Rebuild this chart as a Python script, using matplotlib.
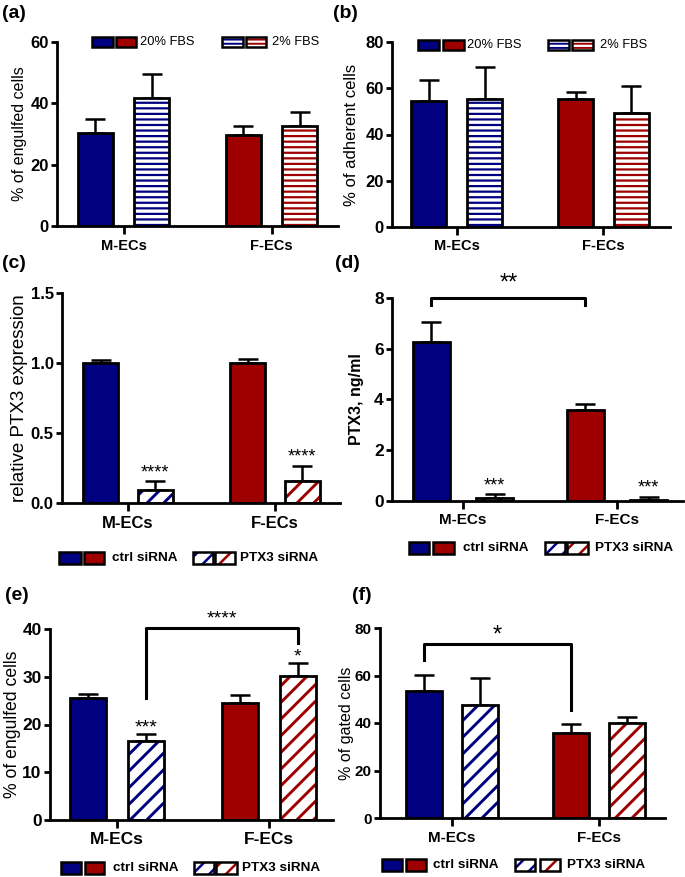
import numpy as np
import matplotlib
matplotlib.use('Agg')
import matplotlib.pyplot as plt
from matplotlib.patches import Rectangle

plt.rcParams['font.family'] = ['Liberation Sans', 'DejaVu Sans']
plt.rcParams['hatch.linewidth'] = 2.1

W, H = 685, 877
blue = '#000080'
red = '#9e0000'

groups = ['M-ECs', 'F-ECs']

# bar order in every panel: M solid, M hatched, F solid, F hatched
# (a) engulfed cells, 20% FBS / 2% FBS
a_mean = [30.3, 41.8, 29.7, 32.5]
a_err = [4.7, 7.9, 2.9, 4.7]
# (b) adherent cells
b_mean = [54.5, 55.5, 55.5, 49.3]
b_err = [9.2, 13.5, 2.7, 11.5]
# (c) relative PTX3 expression, ctrl / PTX3 siRNA
c_mean = [1.0, 0.095, 1.0, 0.155]
c_err = [0.02, 0.06, 0.03, 0.11]
c_stars = ['', '****', '', '****']
# (d) PTX3 ng/ml
d_mean = [6.28, 0.12, 3.58, 0.05]
d_err = [0.77, 0.14, 0.23, 0.11]
d_stars = ['', '***', '', '***']
# (e) engulfed cells
e_mean = [25.5, 16.6, 24.6, 30.1]
e_err = [0.9, 1.4, 1.5, 2.8]
e_stars = ['', '***', '', '*']
# (f) gated cells
f_mean = [53.6, 47.6, 35.8, 40.0]
f_err = [6.5, 11.3, 3.6, 2.4]

fig = plt.figure(figsize=(W / 100, H / 100), dpi=100)


def px_axes(left, top, right, bottom):
    return fig.add_axes([left / W, 1 - bottom / H, (right - left) / W, (bottom - top) / H])


def fig_text(x, y, s, **kw):
    fig.text(x / W, 1 - y / H, s, **kw)


def hatch_lw(patch, lw):
    if hasattr(patch, 'set_hatch_linewidth'):
        patch.set_hatch_linewidth(lw)


def panel(box, tick_px, unit_px, means, errs, hatch, hlw, ymax, yticks, ylabel, ylabel_x,
          offset=0.19, width=0.24, tick_fs=12, x_fs=10.5, label_fs=11.5, label_bold=False,
          ytick_labels=None, stars=None, star_fs=13, star_dy=0):
    left, top, right, bottom = box
    ax = px_axes(left, top, right, bottom)
    x = [-offset, offset, 1 - offset, 1 + offset]
    colors = [blue, blue, red, red]
    for i in range(4):
        if i % 2 == 0:
            ax.bar(x[i], means[i], width, color=colors[i], edgecolor='black', linewidth=2, zorder=2)
        else:
            bars = ax.bar(x[i], means[i], width, color='white', edgecolor=colors[i], hatch=hatch,
                          linewidth=0, zorder=2)
            for p in bars:
                hatch_lw(p, hlw)
            ax.bar(x[i], means[i], width, fill=False, edgecolor='black', linewidth=2, zorder=3)
    ax.errorbar(x, means, yerr=[np.zeros(4), errs], fmt='none', ecolor='black',
                elinewidth=1.8, capsize=7.5, capthick=1.8, zorder=1)
    ax.set_xlim((left - tick_px) / unit_px, (right - tick_px) / unit_px)
    ax.set_ylim(0, ymax)
    ax.set_yticks(yticks)
    if ytick_labels is not None:
        ax.set_yticklabels(ytick_labels)
    ax.set_xticks([0, 1])
    ax.set_xticklabels(groups, fontsize=x_fs, fontweight='bold')
    for t in ax.get_yticklabels():
        t.set_fontsize(tick_fs)
        t.set_fontweight('bold')
    ax.spines['top'].set_visible(False)
    ax.spines['right'].set_visible(False)
    ax.spines['left'].set_linewidth(2)
    ax.spines['bottom'].set_linewidth(2)
    ax.tick_params(axis='y', width=2, length=4, pad=2)
    ax.tick_params(axis='x', width=2, length=6, pad=3)
    fig_text(ylabel_x, (top + bottom) / 2, ylabel, rotation=90, ha='center', va='center',
             fontsize=label_fs, fontweight='bold' if label_bold else 'normal')
    if stars is not None:
        for i in range(4):
            if stars[i]:
                ax.text(x[i], means[i] + errs[i] + star_dy, stars[i], ha='center', va='bottom',
                        fontsize=star_fs, clip_on=False)
    return ax


def legend_box(x0, x1, yc, h, color, hatch=None, hlw=2.1):
    xy = (x0 / W, 1 - (yc + h / 2) / H)
    if hatch is None:
        fig.patches.append(Rectangle(xy, (x1 - x0) / W, h / H, transform=fig.transFigure,
                                     facecolor=color, edgecolor='black', linewidth=1.8))
    else:
        p = Rectangle(xy, (x1 - x0) / W, h / H, transform=fig.transFigure,
                      facecolor='white', edgecolor=color, hatch=hatch, linewidth=0)
        hatch_lw(p, hlw)
        fig.patches.append(p)
        fig.patches.append(Rectangle(xy, (x1 - x0) / W, h / H, transform=fig.transFigure,
                                     fill=False, edgecolor='black', linewidth=1.8))


def legend_row(yc, h, xs_solid, x_text1, text1, xs_hatch, x_text2, text2, hatch, hlw, fs, bold):
    legend_box(xs_solid[0], xs_solid[1], yc, h, blue)
    legend_box(xs_solid[2], xs_solid[3], yc, h, red)
    legend_box(xs_hatch[0], xs_hatch[1], yc, h, blue, hatch, hlw)
    legend_box(xs_hatch[2], xs_hatch[3], yc, h, red, hatch, hlw)
    w = 'bold' if bold else 'normal'
    fig_text(x_text1, yc, text1, ha='left', va='center', fontsize=fs, fontweight=w)
    fig_text(x_text2, yc, text2, ha='left', va='center', fontsize=fs, fontweight=w)


# (a)
ax_a = panel((57, 42, 338, 226), 123.5, 148, a_mean, a_err, '---', 1.6, 60, [0, 20, 40, 60],
             '% of engulfed cells', 20, tick_fs=12)
legend_row(42, 10, (92, 113, 116, 136), 140, '20% FBS', (222, 243, 246, 266), 272, '2% FBS',
           '----', 1.4, 9.3, False)

# (b)
ax_b = panel((392, 42, 670, 227), 456.7, 146.7, b_mean, b_err, '---', 1.6, 80, [0, 20, 40, 60, 80],
             '% of adherent cells', 352, tick_fs=12, label_fs=12)
legend_row(45, 10, (418, 439, 443, 464), 467, '20% FBS', (548, 569, 572, 593), 600, '2% FBS',
           '----', 1.4, 9.3, False)

# (c)
ax_c = panel((62, 293, 340, 503), 128, 147, c_mean, c_err, '//', 2.1, 1.5, [0, 0.5, 1.0, 1.5],
             'relative PTX3 expression', 20, offset=0.185, tick_fs=12, x_fs=12, label_fs=13.5,
             ytick_labels=['0.0', '0.5', '1.0', '1.5'], stars=c_stars)
legend_row(558, 12, (59, 81, 84, 104), 112, 'ctrl siRNA', (193, 213, 215, 235), 240, 'PTX3 siRNA',
           '//', 1.8, 9.7, True)

# (d)
ax_d = panel((392, 298, 683, 501), 463, 154, d_mean, d_err, '//', 2.1, 8, [0, 2, 4, 6, 8],
             'PTX3, ng/ml', 357, offset=0.205, tick_fs=12.5, x_fs=11, label_fs=11.5,
             label_bold=True, stars=d_stars)
ax_d.plot([-0.205, -0.205, 0.795, 0.795], [7.74, 8.0, 8.0, 7.74], color='black', lw=2.2,
          clip_on=False)
ax_d.text(0.295, 8.15, '**', ha='center', va='bottom', fontsize=17, clip_on=False)
legend_row(548, 12, (409, 429, 433, 454), 463, 'ctrl siRNA', (545, 565, 567, 588), 595, 'PTX3 siRNA',
           '//', 1.8, 9.7, True)

# (e)
ax_e = panel((50, 629, 333, 820), 117, 152, e_mean, e_err, '//', 2.1, 40, [0, 10, 20, 30, 40],
             '% of engulfed cells', 13, tick_fs=12.5, x_fs=12.5, label_fs=12.7, stars=e_stars,
             star_fs=14, star_dy=-0.6)
ax_e.plot([0.19, 0.19, 1.19, 1.19], [25.5, 40.2, 40.2, 37.1], color='black', lw=2.2, clip_on=False)
ax_e.text(0.69, 40.3, '****', ha='center', va='bottom', fontsize=14, clip_on=False)
legend_row(868, 12, (61, 81, 85, 104), 113, 'ctrl siRNA', (194, 214, 216, 237), 242, 'PTX3 siRNA',
           '//', 1.8, 9.7, True)

# (f)
ax_f = panel((380, 628, 665, 818), 452, 147, f_mean, f_err, '//', 2.1, 80, [0, 20, 40, 60, 80],
             '% of gated cells', 346, tick_fs=11, x_fs=11, label_fs=11.5)
ax_f.plot([-0.19, -0.19, 0.81, 0.81], [66.7, 73.4, 73.4, 45.6], color='black', lw=2.2, clip_on=False)
ax_f.text(0.31, 72.0, '*', ha='center', va='bottom', fontsize=17, clip_on=False)
legend_row(865, 12, (382, 402, 406, 426), 433, 'ctrl siRNA', (515, 535, 540, 560), 567, 'PTX3 siRNA',
           '//', 1.8, 9.7, True)

# panel letters
for x, y, s in [(2, 14, '(a)'), (333, 14, '(b)'), (2, 264, '(c)'), (335, 264, '(d)'),
                (5, 596, '(e)'), (352, 595, '(f)')]:
    fig_text(x, y, s, ha='left', va='center', fontsize=14, fontweight='bold')

fig.savefig('out.png', dpi=100)
